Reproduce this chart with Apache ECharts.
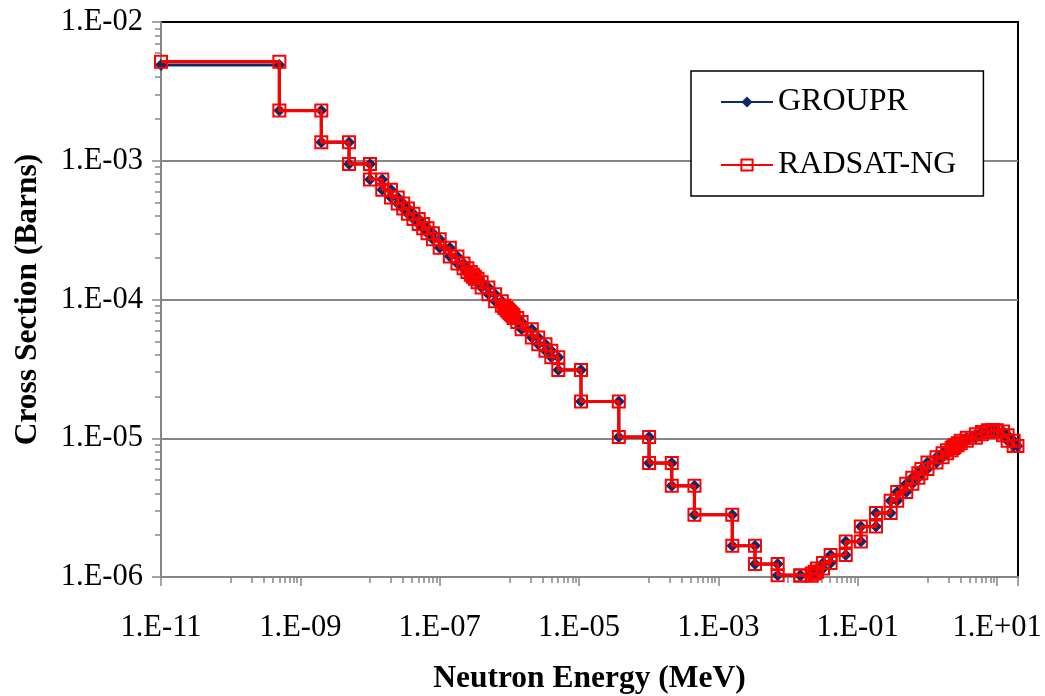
<!DOCTYPE html>
<html>
<head>
<meta charset="utf-8">
<script src="https://cdn.jsdelivr.net/npm/echarts@6/dist/echarts.min.js"></script>
<style>
html,body{margin:0;padding:0;background:#fff;}
#chart{width:1045px;height:696px;}
</style>
</head>
<body>
<div id="chart"></div>
<script>
// Group boundaries (MeV)
const groupBounds = [
  1e-11, 5.0e-10, 2.0e-9, 5.0e-9, 1.0e-8,
  1.5e-8, 2.0e-8, 2.5e-8, 3.0e-8, 3.5e-8, 4.2e-8, 5.0e-8, 5.8e-8, 6.7e-8, 8.0e-8,
  1.0e-7, 1.4e-7, 1.8e-7, 2.2e-7, 2.5e-7, 2.8e-7, 3.0e-7, 3.2e-7, 3.5e-7, 4.0e-7, 5.0e-7, 6.25e-7, 7.8e-7, 8.5e-7, 9.1e-7, 9.5e-7, 9.72e-7, 9.96e-7,
  1.02e-6, 1.045e-6, 1.071e-6, 1.097e-6, 1.123e-6, 1.15e-6, 1.3e-6, 1.5e-6, 2.1e-6, 2.6e-6, 3.3e-6, 4.0e-6, 5.043e-6,
  1.068e-5, 3.727e-5, 1.013e-4, 2.144e-4, 4.54e-4, 1.585e-3, 3.355e-3, 7.102e-3, 1.503e-2,
  2.188e-2, 2.418e-2, 2.606e-2, 3.183e-2, 4.087e-2, 6.738e-2, 0.1111, 0.1832, 0.2972, 0.3688, 0.4979, 0.6081, 0.7427, 0.8208,
  1.003, 1.353, 1.653, 1.92, 2.231, 2.346, 2.365, 2.466, 2.725, 3.012, 3.679, 4.966, 6.065, 7.408, 8.607, 10.0, 12.21, 14.19, 17.33, 19.64
];
// Group cross sections (barns)
const sigmaGroupr = [
  4.89e-3, 2.30e-3, 1.36e-3, 9.48e-4,
  7.34e-4, 6.18e-4, 5.44e-4, 4.91e-4, 4.52e-4, 4.15e-4, 3.80e-4, 3.50e-4, 3.26e-4, 3.00e-4,
  2.72e-4, 2.36e-4, 2.04e-4, 1.82e-4, 1.68e-4, 1.58e-4, 1.51e-4, 1.46e-4, 1.41e-4, 1.33e-4, 1.22e-4, 1.09e-4, 9.73e-5, 9.01e-5, 8.67e-5, 8.43e-5, 8.29e-5, 8.20e-5,
  8.10e-5, 8.00e-5, 7.90e-5, 7.81e-5, 7.72e-5, 7.63e-5, 7.35e-5, 6.88e-5, 6.10e-5, 5.32e-5, 4.75e-5, 4.27e-5, 3.84e-5,
  3.11e-5, 1.84e-5, 1.02e-5, 6.62e-6, 4.54e-6, 2.81e-6, 1.68e-6, 1.24e-6, 1.03e-6,
  1.02e-6, 1.06e-6, 1.09e-6, 1.15e-6, 1.26e-6, 1.44e-6, 1.80e-6, 2.31e-6, 2.89e-6, 3.55e-6, 4.10e-6, 4.70e-6, 5.20e-6, 5.60e-6,
  6.00e-6, 6.70e-6, 7.30e-6, 7.80e-6, 8.20e-6, 8.50e-6, 8.60e-6, 8.70e-6, 8.90e-6, 9.20e-6, 9.60e-6, 1.01e-5, 1.07e-5, 1.11e-5, 1.14e-5, 1.14e-5, 1.12e-5, 1.05e-5, 9.60e-6, 8.80e-6
];
const sigmaRadsat = [
  5.18e-3, 2.30e-3, 1.36e-3, 9.48e-4,
  7.34e-4, 6.18e-4, 5.44e-4, 4.91e-4, 4.52e-4, 4.15e-4, 3.80e-4, 3.50e-4, 3.26e-4, 3.00e-4,
  2.72e-4, 2.36e-4, 2.04e-4, 1.82e-4, 1.68e-4, 1.58e-4, 1.51e-4, 1.46e-4, 1.41e-4, 1.33e-4, 1.22e-4, 1.09e-4, 9.73e-5, 9.01e-5, 8.67e-5, 8.43e-5, 8.29e-5, 8.20e-5,
  8.10e-5, 8.00e-5, 7.90e-5, 7.81e-5, 7.72e-5, 7.63e-5, 7.35e-5, 6.88e-5, 6.10e-5, 5.32e-5, 4.75e-5, 4.27e-5, 3.84e-5,
  3.11e-5, 1.84e-5, 1.02e-5, 6.62e-6, 4.54e-6, 2.81e-6, 1.68e-6, 1.24e-6, 1.03e-6,
  1.02e-6, 1.06e-6, 1.09e-6, 1.15e-6, 1.26e-6, 1.44e-6, 1.80e-6, 2.31e-6, 2.89e-6, 3.55e-6, 4.10e-6, 4.70e-6, 5.20e-6, 5.60e-6,
  6.00e-6, 6.70e-6, 7.30e-6, 7.80e-6, 8.20e-6, 8.50e-6, 8.60e-6, 8.70e-6, 8.90e-6, 9.20e-6, 9.60e-6, 1.01e-5, 1.07e-5, 1.11e-5, 1.14e-5, 1.14e-5, 1.12e-5, 1.05e-5, 9.60e-6, 8.80e-6
];
const seriesNames = ['GROUPR', 'RADSAT-NG'];
const xLabelTicks = [1e-11, 1e-9, 1e-7, 1e-5, 1e-3, 1e-1, 1e1];
const xMajorTicks = [1e-11, 1e-9, 1e-7, 1e-5, 1e-3, 1e-1, 1e1, 20];
const yMajorTicks = [1e-6, 1e-5, 1e-4, 1e-3, 1e-2];
const xMinorMantissas = [1, 2, 3, 4, 5, 6, 7, 8, 9];
const xMinorDecades = [-10, -8, -6, -4, -2, 0];
const yMinorMantissas = [2, 3, 4, 5, 6, 7, 8, 9];
const yMinorDecades = [-6, -5, -4, -3];

function stepPoints(bounds, vals) {
  const pts = [];
  for (let i = 0; i < vals.length; i++) {
    pts.push([bounds[i], vals[i]]);
    pts.push([bounds[i + 1], vals[i]]);
  }
  return pts;
}
function minorList(decades, mants) {
  const out = [];
  decades.forEach(d => mants.forEach(m => out.push(+(m + 'e' + d))));
  return out;
}
function fmtExp(v) {
  const e = Math.round(Math.log10(v));
  const s = e < 0 ? '-' : '+';
  const a = Math.abs(e);
  return '1.E' + s + (a < 10 ? '0' + a : '' + a);
}

const FONT = '"Liberation Serif", "Times New Roman", serif';
const GREY = '#868686';
const NAVY = '#0F2A66';
const RED = '#FF0000';

const chart = echarts.init(document.getElementById('chart'), null, {renderer: 'canvas'});
chart.setOption({
  animation: false,
  backgroundColor: '#fff',
  grid: {left: 161, right: 27, top: 22, bottom: 119, show: true, borderColor: '#000', borderWidth: 2, backgroundColor: 'transparent', outerBoundsMode: 'none', containLabel: false},
  legend: {
    left: 691, top: 71, orient: 'vertical',
    backgroundColor: '#fff', borderColor: '#000', borderWidth: 1.5,
    padding: [15, 27, 15, 29], itemWidth: 52, itemHeight: 14, itemGap: 31,
    textStyle: {fontFamily: FONT, fontSize: 32, color: '#000'},
    data: seriesNames
  },
  xAxis: [{
    type: 'log', logBase: 10, min: 1e-11, max: 20,
    name: 'Neutron Energy (MeV)', nameLocation: 'middle', nameGap: 86,
    nameTextStyle: {fontFamily: FONT, fontSize: 31.5, fontWeight: 'bold', color: '#000'},
    axisLine: {show: true, lineStyle: {color: GREY, width: 2}},
    axisTick: {show: true, length: 9, lineStyle: {color: GREY, width: 1.5}, customValues: xMajorTicks},
    axisLabel: {show: true, margin: 35, fontFamily: FONT, fontSize: 30.5, color: '#000', customValues: xLabelTicks, formatter: fmtExp},
    splitLine: {show: false}, minorTick: {show: false}
  }, {
    type: 'log', logBase: 10, min: 1e-11, max: 20, position: 'bottom',
    axisLine: {show: false},
    axisTick: {show: true, length: 6, lineStyle: {color: GREY, width: 1.5}, customValues: minorList(xMinorDecades, xMinorMantissas)},
    axisLabel: {show: false}, splitLine: {show: false}
  }],
  yAxis: [{
    type: 'log', logBase: 10, min: 1e-6, max: 1e-2,
    name: 'Cross Section (Barns)', nameLocation: 'middle', nameGap: 117,
    nameTextStyle: {fontFamily: FONT, fontSize: 31.5, fontWeight: 'bold', color: '#000'},
    axisLine: {show: true, lineStyle: {color: GREY, width: 2}},
    axisTick: {show: true, length: 9, lineStyle: {color: GREY, width: 1.5}, customValues: yMajorTicks},
    axisLabel: {show: true, margin: 18, fontFamily: FONT, fontSize: 30.5, color: '#000', customValues: yMajorTicks, formatter: fmtExp},
    splitLine: {show: true, showMinLine: false, showMaxLine: false, lineStyle: {color: GREY, width: 2}}, minorTick: {show: false}
  }, {
    type: 'log', logBase: 10, min: 1e-6, max: 1e-2, position: 'left',
    axisLine: {show: false},
    axisTick: {show: true, length: 6, lineStyle: {color: GREY, width: 1.5}, customValues: minorList(yMinorDecades, yMinorMantissas)},
    axisLabel: {show: false}, splitLine: {show: false}
  }],
  series: [{
    name: seriesNames[0], type: 'line', xAxisIndex: 0, yAxisIndex: 0,
    data: stepPoints(groupBounds, sigmaGroupr),
    symbol: 'diamond', symbolSize: 12, showAllSymbol: true,
    lineStyle: {color: NAVY, width: 3},
    itemStyle: {color: NAVY},
    z: 2
  }, {
    name: seriesNames[1], type: 'line', xAxisIndex: 0, yAxisIndex: 0,
    data: stepPoints(groupBounds, sigmaRadsat),
    symbol: 'rect', symbolSize: 12, showAllSymbol: true,
    lineStyle: {color: RED, width: 3.2},
    itemStyle: {color: 'rgba(255,255,255,0)', borderColor: RED, borderWidth: 2},
    z: 3
  }]
});
</script>
</body>
</html>
